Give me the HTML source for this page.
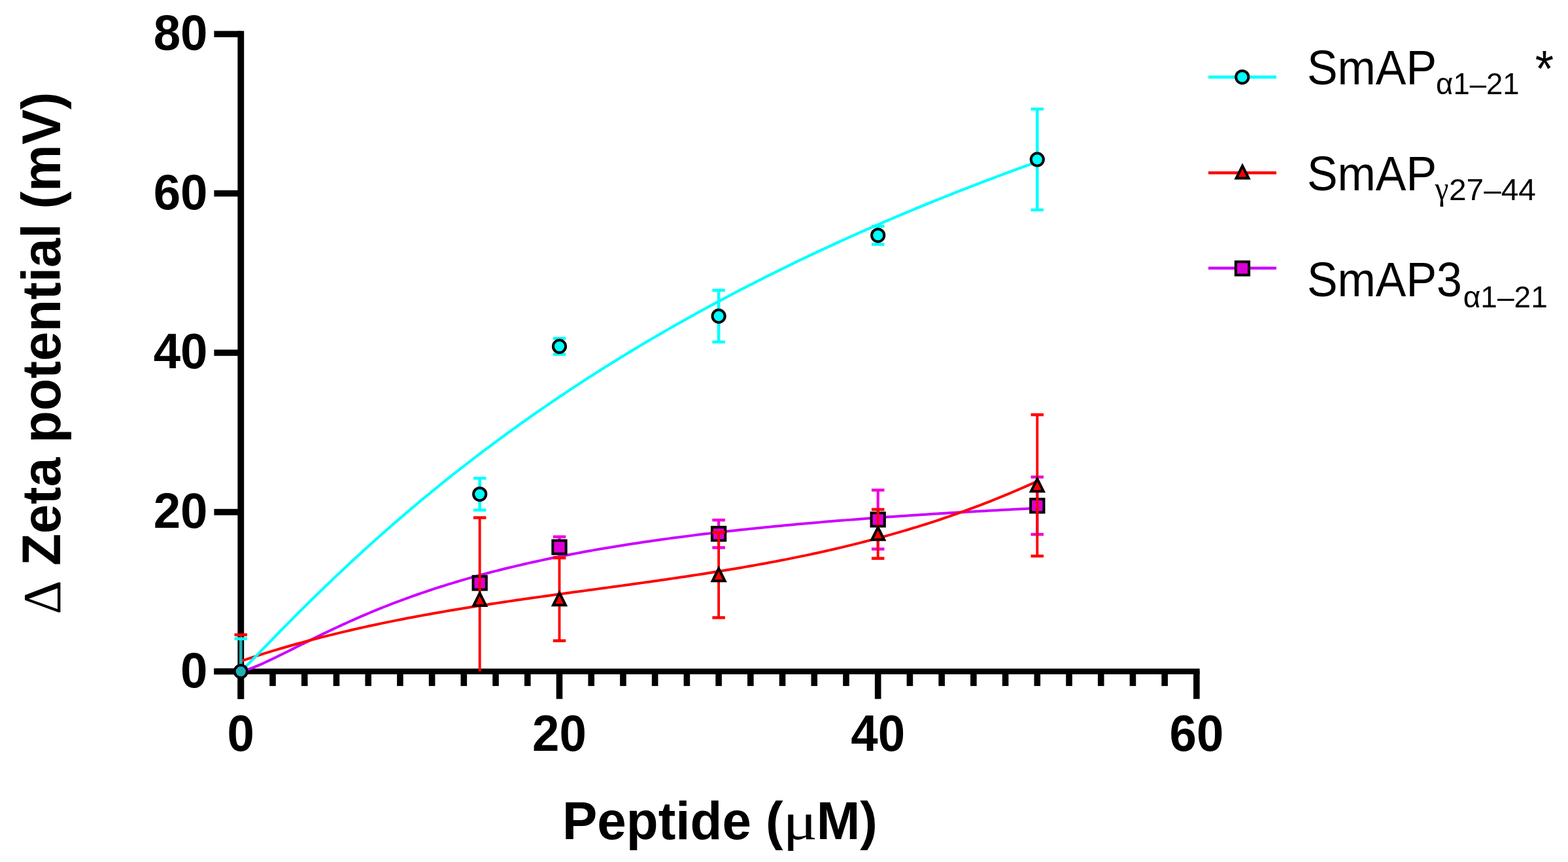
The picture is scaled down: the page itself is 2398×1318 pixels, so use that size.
<!DOCTYPE html>
<html><head><meta charset="utf-8"><style>
html,body{margin:0;padding:0;background:#fff;}
svg{display:block;}
.tk{font-family:"Liberation Sans",Arial,sans-serif;font-weight:bold;font-size:74.5px;fill:#000;}
.ti{font-family:"Liberation Sans",Arial,sans-serif;font-weight:bold;font-size:80px;fill:#000;}
.gr{font-family:"Liberation Serif","Times New Roman",serif;font-weight:normal;}
.lg{font-family:"Liberation Sans",Arial,sans-serif;font-size:71px;fill:#000;}
.sub{font-size:45px;}
.subg{font-size:48px;font-family:"Liberation Serif",serif;}
.ast{font-size:74px;}
.mu{stroke:#000;stroke-width:1.3px;}
.yt{font-size:80.5px;}
</style></head><body>
<svg width="2398" height="1318" viewBox="0 0 2398 1318">
<rect width="2398" height="1318" fill="#fff"/>
<rect x="363.4" y="47.3" width="9.8" height="1021.4" fill="#000"/>
<rect x="327.4" y="1021.80" width="40.9" height="9.6" fill="#000"/>
<rect x="327.4" y="778.18" width="40.9" height="9.6" fill="#000"/>
<rect x="327.4" y="534.56" width="40.9" height="9.6" fill="#000"/>
<rect x="327.4" y="290.94" width="40.9" height="9.6" fill="#000"/>
<rect x="327.4" y="47.32" width="40.9" height="9.6" fill="#000"/>
<rect x="327.4" y="1022.3" width="1507.3" height="8.7" fill="#000"/>
<rect x="363.50" y="1026" width="9.6" height="42.7" fill="#000"/>
<rect x="412.22" y="1026" width="9.6" height="22.9" fill="#000"/>
<rect x="460.94" y="1026" width="9.6" height="22.9" fill="#000"/>
<rect x="509.66" y="1026" width="9.6" height="22.9" fill="#000"/>
<rect x="558.38" y="1026" width="9.6" height="22.9" fill="#000"/>
<rect x="607.10" y="1026" width="9.6" height="22.9" fill="#000"/>
<rect x="655.82" y="1026" width="9.6" height="22.9" fill="#000"/>
<rect x="704.54" y="1026" width="9.6" height="22.9" fill="#000"/>
<rect x="753.26" y="1026" width="9.6" height="22.9" fill="#000"/>
<rect x="801.98" y="1026" width="9.6" height="22.9" fill="#000"/>
<rect x="850.70" y="1026" width="9.6" height="42.7" fill="#000"/>
<rect x="899.42" y="1026" width="9.6" height="22.9" fill="#000"/>
<rect x="948.14" y="1026" width="9.6" height="22.9" fill="#000"/>
<rect x="996.86" y="1026" width="9.6" height="22.9" fill="#000"/>
<rect x="1045.58" y="1026" width="9.6" height="22.9" fill="#000"/>
<rect x="1094.30" y="1026" width="9.6" height="22.9" fill="#000"/>
<rect x="1143.02" y="1026" width="9.6" height="22.9" fill="#000"/>
<rect x="1191.74" y="1026" width="9.6" height="22.9" fill="#000"/>
<rect x="1240.46" y="1026" width="9.6" height="22.9" fill="#000"/>
<rect x="1289.18" y="1026" width="9.6" height="22.9" fill="#000"/>
<rect x="1337.90" y="1026" width="9.6" height="42.7" fill="#000"/>
<rect x="1386.62" y="1026" width="9.6" height="22.9" fill="#000"/>
<rect x="1435.34" y="1026" width="9.6" height="22.9" fill="#000"/>
<rect x="1484.06" y="1026" width="9.6" height="22.9" fill="#000"/>
<rect x="1532.78" y="1026" width="9.6" height="22.9" fill="#000"/>
<rect x="1581.50" y="1026" width="9.6" height="22.9" fill="#000"/>
<rect x="1630.22" y="1026" width="9.6" height="22.9" fill="#000"/>
<rect x="1678.94" y="1026" width="9.6" height="22.9" fill="#000"/>
<rect x="1727.66" y="1026" width="9.6" height="22.9" fill="#000"/>
<rect x="1776.38" y="1026" width="9.6" height="22.9" fill="#000"/>
<rect x="1825.10" y="1026" width="9.6" height="42.7" fill="#000"/>
<path d="M368.30,1026.60 L374.42,1025.23 L380.54,1023.24 L386.66,1020.95 L392.78,1018.45 L398.90,1015.80 L405.02,1013.03 L411.14,1010.17 L417.26,1007.25 L423.39,1004.28 L429.51,1001.26 L435.63,998.22 L441.75,995.17 L447.87,992.10 L453.99,989.03 L460.11,985.97 L466.23,982.91 L472.35,979.87 L478.47,976.84 L484.59,973.84 L490.71,970.86 L496.83,967.90 L502.95,964.97 L509.07,962.07 L515.19,959.20 L521.32,956.37 L527.44,953.57 L533.56,950.80 L539.68,948.06 L545.80,945.37 L551.92,942.70 L558.04,940.08 L564.16,937.49 L570.28,934.94 L576.40,932.42 L582.52,929.94 L588.64,927.50 L594.76,925.09 L600.88,922.72 L607.00,920.39 L613.12,918.09 L619.24,915.83 L625.37,913.60 L631.49,911.41 L637.61,909.25 L643.73,907.13 L649.85,905.04 L655.97,902.98 L662.09,900.96 L668.21,898.96 L674.33,897.00 L680.45,895.07 L686.57,893.17 L692.69,891.30 L698.81,889.46 L704.93,887.65 L711.05,885.87 L717.17,884.12 L723.29,882.40 L729.42,880.70 L735.54,879.03 L741.66,877.38 L747.78,875.76 L753.90,874.17 L760.02,872.60 L766.14,871.06 L772.26,869.54 L778.38,868.04 L784.50,866.57 L790.62,865.12 L796.74,863.70 L802.86,862.29 L808.98,860.91 L815.10,859.54 L821.22,858.20 L827.35,856.88 L833.47,855.58 L839.59,854.30 L845.71,853.04 L851.83,851.79 L857.95,850.57 L864.07,849.36 L870.19,848.17 L876.31,847.00 L882.43,845.85 L888.55,844.71 L894.67,843.59 L900.79,842.48 L906.91,841.39 L913.03,840.32 L919.15,839.26 L925.27,838.22 L931.40,837.19 L937.52,836.18 L943.64,835.18 L949.76,834.20 L955.88,833.23 L962.00,832.27 L968.12,831.33 L974.24,830.40 L980.36,829.48 L986.48,828.57 L992.60,827.68 L998.72,826.80 L1004.84,825.93 L1010.96,825.07 L1017.08,824.22 L1023.20,823.39 L1029.33,822.56 L1035.45,821.75 L1041.57,820.95 L1047.69,820.16 L1053.81,819.38 L1059.93,818.61 L1066.05,817.84 L1072.17,817.09 L1078.29,816.35 L1084.41,815.62 L1090.53,814.90 L1096.65,814.18 L1102.77,813.48 L1108.89,812.78 L1115.01,812.09 L1121.13,811.41 L1127.25,810.74 L1133.38,810.08 L1139.50,809.43 L1145.62,808.78 L1151.74,808.14 L1157.86,807.51 L1163.98,806.89 L1170.10,806.27 L1176.22,805.67 L1182.34,805.07 L1188.46,804.47 L1194.58,803.89 L1200.70,803.31 L1206.82,802.73 L1212.94,802.17 L1219.06,801.61 L1225.18,801.05 L1231.31,800.51 L1237.43,799.97 L1243.55,799.43 L1249.67,798.90 L1255.79,798.38 L1261.91,797.86 L1268.03,797.35 L1274.15,796.85 L1280.27,796.35 L1286.39,795.86 L1292.51,795.37 L1298.63,794.88 L1304.75,794.41 L1310.87,793.93 L1316.99,793.47 L1323.11,793.00 L1329.23,792.55 L1335.36,792.09 L1341.48,791.65 L1347.60,791.20 L1353.72,790.76 L1359.84,790.33 L1365.96,789.90 L1372.08,789.48 L1378.20,789.06 L1384.32,788.64 L1390.44,788.23 L1396.56,787.82 L1402.68,787.42 L1408.80,787.02 L1414.92,786.63 L1421.04,786.24 L1427.16,785.85 L1433.28,785.47 L1439.41,785.09 L1445.53,784.71 L1451.65,784.34 L1457.77,783.97 L1463.89,783.61 L1470.01,783.25 L1476.13,782.89 L1482.25,782.54 L1488.37,782.19 L1494.49,781.84 L1500.61,781.50 L1506.73,781.15 L1512.85,780.82 L1518.97,780.48 L1525.09,780.15 L1531.21,779.83 L1537.34,779.50 L1543.46,779.18 L1549.58,778.86 L1555.70,778.55 L1561.82,778.23 L1567.94,777.93 L1574.06,777.62 L1580.18,777.31 L1586.30,777.01" fill="none" stroke="#cc00ff" stroke-width="4.0"/>
<line x1="855.50" y1="820.74" x2="855.50" y2="852.41" stroke="#ee00dd" stroke-width="4.2"/>
<line x1="845.75" y1="820.74" x2="865.25" y2="820.74" stroke="#ee00dd" stroke-width="4.5"/>
<line x1="845.75" y1="852.41" x2="865.25" y2="852.41" stroke="#ee00dd" stroke-width="4.5"/>
<line x1="1099.10" y1="795.16" x2="1099.10" y2="837.31" stroke="#ee00dd" stroke-width="4.2"/>
<line x1="1089.35" y1="795.16" x2="1108.85" y2="795.16" stroke="#ee00dd" stroke-width="4.5"/>
<line x1="1089.35" y1="837.31" x2="1108.85" y2="837.31" stroke="#ee00dd" stroke-width="4.5"/>
<line x1="1342.70" y1="749.36" x2="1342.70" y2="839.50" stroke="#ee00dd" stroke-width="4.2"/>
<line x1="1332.95" y1="749.36" x2="1352.45" y2="749.36" stroke="#ee00dd" stroke-width="4.5"/>
<line x1="1332.95" y1="839.50" x2="1352.45" y2="839.50" stroke="#ee00dd" stroke-width="4.5"/>
<line x1="1586.30" y1="729.38" x2="1586.30" y2="817.09" stroke="#ee00dd" stroke-width="4.2"/>
<line x1="1576.55" y1="729.38" x2="1596.05" y2="729.38" stroke="#ee00dd" stroke-width="4.5"/>
<line x1="1576.55" y1="817.09" x2="1596.05" y2="817.09" stroke="#ee00dd" stroke-width="4.5"/>
<rect x="723.55" y="881.24" width="20.3" height="20.3" fill="#dc00d6" stroke="#000" stroke-width="4"/>
<rect x="845.35" y="826.43" width="20.3" height="20.3" fill="#dc00d6" stroke="#000" stroke-width="4"/>
<rect x="1088.95" y="806.08" width="20.3" height="20.3" fill="#dc00d6" stroke="#000" stroke-width="4"/>
<rect x="1332.55" y="784.28" width="20.3" height="20.3" fill="#dc00d6" stroke="#000" stroke-width="4"/>
<rect x="1576.15" y="763.09" width="20.3" height="20.3" fill="#dc00d6" stroke="#000" stroke-width="4"/>
<path d="M368.30,1010.88 L374.42,1008.82 L380.54,1006.80 L386.66,1004.79 L392.78,1002.82 L398.90,1000.87 L405.02,998.95 L411.14,997.06 L417.26,995.19 L423.39,993.35 L429.51,991.53 L435.63,989.74 L441.75,987.97 L447.87,986.23 L453.99,984.51 L460.11,982.81 L466.23,981.14 L472.35,979.49 L478.47,977.87 L484.59,976.26 L490.71,974.68 L496.83,973.12 L502.95,971.58 L509.07,970.07 L515.19,968.57 L521.32,967.09 L527.44,965.64 L533.56,964.20 L539.68,962.79 L545.80,961.39 L551.92,960.01 L558.04,958.65 L564.16,957.31 L570.28,955.99 L576.40,954.68 L582.52,953.39 L588.64,952.12 L594.76,950.87 L600.88,949.63 L607.00,948.41 L613.12,947.20 L619.24,946.01 L625.37,944.83 L631.49,943.67 L637.61,942.52 L643.73,941.39 L649.85,940.27 L655.97,939.17 L662.09,938.07 L668.21,936.99 L674.33,935.93 L680.45,934.87 L686.57,933.83 L692.69,932.80 L698.81,931.78 L704.93,930.77 L711.05,929.77 L717.17,928.78 L723.29,927.80 L729.42,926.83 L735.54,925.87 L741.66,924.92 L747.78,923.97 L753.90,923.04 L760.02,922.11 L766.14,921.20 L772.26,920.28 L778.38,919.38 L784.50,918.48 L790.62,917.59 L796.74,916.71 L802.86,915.83 L808.98,914.95 L815.10,914.08 L821.22,913.22 L827.35,912.36 L833.47,911.50 L839.59,910.65 L845.71,909.80 L851.83,908.96 L857.95,908.12 L864.07,907.28 L870.19,906.44 L876.31,905.60 L882.43,904.77 L888.55,903.94 L894.67,903.11 L900.79,902.27 L906.91,901.44 L913.03,900.61 L919.15,899.78 L925.27,898.95 L931.40,898.12 L937.52,897.28 L943.64,896.45 L949.76,895.61 L955.88,894.77 L962.00,893.92 L968.12,893.08 L974.24,892.23 L980.36,891.38 L986.48,890.52 L992.60,889.66 L998.72,888.79 L1004.84,887.92 L1010.96,887.05 L1017.08,886.17 L1023.20,885.28 L1029.33,884.39 L1035.45,883.49 L1041.57,882.58 L1047.69,881.67 L1053.81,880.75 L1059.93,879.82 L1066.05,878.88 L1072.17,877.94 L1078.29,876.99 L1084.41,876.02 L1090.53,875.05 L1096.65,874.07 L1102.77,873.08 L1108.89,872.08 L1115.01,871.06 L1121.13,870.04 L1127.25,869.01 L1133.38,867.96 L1139.50,866.90 L1145.62,865.83 L1151.74,864.75 L1157.86,863.65 L1163.98,862.54 L1170.10,861.42 L1176.22,860.28 L1182.34,859.13 L1188.46,857.97 L1194.58,856.79 L1200.70,855.59 L1206.82,854.38 L1212.94,853.16 L1219.06,851.91 L1225.18,850.66 L1231.31,849.38 L1237.43,848.09 L1243.55,846.78 L1249.67,845.45 L1255.79,844.10 L1261.91,842.74 L1268.03,841.36 L1274.15,839.96 L1280.27,838.53 L1286.39,837.09 L1292.51,835.63 L1298.63,834.15 L1304.75,832.65 L1310.87,831.13 L1316.99,829.58 L1323.11,828.02 L1329.23,826.43 L1335.36,824.82 L1341.48,823.19 L1347.60,821.54 L1353.72,819.86 L1359.84,818.16 L1365.96,816.43 L1372.08,814.68 L1378.20,812.91 L1384.32,811.11 L1390.44,809.29 L1396.56,807.44 L1402.68,805.56 L1408.80,803.66 L1414.92,801.74 L1421.04,799.78 L1427.16,797.80 L1433.28,795.79 L1439.41,793.76 L1445.53,791.69 L1451.65,789.60 L1457.77,787.48 L1463.89,785.33 L1470.01,783.15 L1476.13,780.95 L1482.25,778.71 L1488.37,776.44 L1494.49,774.14 L1500.61,771.81 L1506.73,769.45 L1512.85,767.06 L1518.97,764.63 L1525.09,762.17 L1531.21,759.69 L1537.34,757.16 L1543.46,754.61 L1549.58,752.02 L1555.70,749.40 L1561.82,746.74 L1567.94,744.05 L1574.06,741.33 L1580.18,738.57 L1586.30,735.77" fill="none" stroke="#ff0000" stroke-width="4.0"/>
<line x1="368.30" y1="970.57" x2="368.30" y2="1026.60" stroke="#ff0000" stroke-width="3.9"/>
<line x1="358.55" y1="970.57" x2="378.05" y2="970.57" stroke="#ff0000" stroke-width="4.5"/>
<line x1="733.70" y1="791.51" x2="733.70" y2="1026.60" stroke="#ff0000" stroke-width="3.9"/>
<line x1="723.95" y1="791.51" x2="743.45" y2="791.51" stroke="#ff0000" stroke-width="4.5"/>
<line x1="855.50" y1="853.02" x2="855.50" y2="979.70" stroke="#ff0000" stroke-width="3.9"/>
<line x1="845.75" y1="853.02" x2="865.25" y2="853.02" stroke="#ff0000" stroke-width="4.5"/>
<line x1="845.75" y1="979.70" x2="865.25" y2="979.70" stroke="#ff0000" stroke-width="4.5"/>
<line x1="1099.10" y1="814.04" x2="1099.10" y2="944.38" stroke="#ff0000" stroke-width="3.9"/>
<line x1="1089.35" y1="814.04" x2="1108.85" y2="814.04" stroke="#ff0000" stroke-width="4.5"/>
<line x1="1089.35" y1="944.38" x2="1108.85" y2="944.38" stroke="#ff0000" stroke-width="4.5"/>
<line x1="1342.70" y1="778.96" x2="1342.70" y2="853.75" stroke="#ff0000" stroke-width="3.9"/>
<line x1="1332.95" y1="778.96" x2="1352.45" y2="778.96" stroke="#ff0000" stroke-width="4.5"/>
<line x1="1332.95" y1="853.75" x2="1352.45" y2="853.75" stroke="#ff0000" stroke-width="4.5"/>
<line x1="1586.30" y1="634.13" x2="1586.30" y2="850.22" stroke="#ff0000" stroke-width="3.9"/>
<line x1="1576.55" y1="634.13" x2="1596.05" y2="634.13" stroke="#ff0000" stroke-width="4.5"/>
<line x1="1576.55" y1="850.22" x2="1596.05" y2="850.22" stroke="#ff0000" stroke-width="4.5"/>
<path d="M733.70,906.97 L743.20,925.97 L724.20,925.97 Z" fill="#ff0000" stroke="#000" stroke-width="4" stroke-linejoin="miter"/>
<path d="M855.50,906.36 L865.00,925.36 L846.00,925.36 Z" fill="#ff0000" stroke="#000" stroke-width="4" stroke-linejoin="miter"/>
<path d="M1099.10,869.21 L1108.60,888.21 L1089.60,888.21 Z" fill="#ff0000" stroke="#000" stroke-width="4" stroke-linejoin="miter"/>
<path d="M1342.70,806.36 L1352.20,825.36 L1333.20,825.36 Z" fill="#ff0000" stroke="#000" stroke-width="4" stroke-linejoin="miter"/>
<path d="M1586.30,732.17 L1595.80,751.17 L1576.80,751.17 Z" fill="#ff0000" stroke="#000" stroke-width="4" stroke-linejoin="miter"/>
<path d="M368.30,1026.60 L374.42,1020.69 L380.54,1014.51 L386.66,1008.25 L392.78,1001.95 L398.90,995.64 L405.02,989.33 L411.14,983.02 L417.26,976.73 L423.39,970.46 L429.51,964.21 L435.63,957.98 L441.75,951.78 L447.87,945.61 L453.99,939.46 L460.11,933.35 L466.23,927.26 L472.35,921.21 L478.47,915.19 L484.59,909.21 L490.71,903.25 L496.83,897.33 L502.95,891.44 L509.07,885.59 L515.19,879.77 L521.32,873.99 L527.44,868.24 L533.56,862.53 L539.68,856.85 L545.80,851.20 L551.92,845.59 L558.04,840.01 L564.16,834.47 L570.28,828.96 L576.40,823.49 L582.52,818.04 L588.64,812.64 L594.76,807.26 L600.88,801.92 L607.00,796.62 L613.12,791.34 L619.24,786.10 L625.37,780.90 L631.49,775.72 L637.61,770.58 L643.73,765.47 L649.85,760.39 L655.97,755.34 L662.09,750.33 L668.21,745.34 L674.33,740.39 L680.45,735.47 L686.57,730.58 L692.69,725.72 L698.81,720.89 L704.93,716.09 L711.05,711.32 L717.17,706.58 L723.29,701.87 L729.42,697.19 L735.54,692.53 L741.66,687.91 L747.78,683.31 L753.90,678.75 L760.02,674.21 L766.14,669.70 L772.26,665.21 L778.38,660.76 L784.50,656.33 L790.62,651.93 L796.74,647.55 L802.86,643.20 L808.98,638.88 L815.10,634.59 L821.22,630.32 L827.35,626.08 L833.47,621.86 L839.59,617.67 L845.71,613.50 L851.83,609.36 L857.95,605.24 L864.07,601.15 L870.19,597.08 L876.31,593.03 L882.43,589.01 L888.55,585.02 L894.67,581.04 L900.79,577.10 L906.91,573.17 L913.03,569.27 L919.15,565.39 L925.27,561.53 L931.40,557.70 L937.52,553.88 L943.64,550.09 L949.76,546.33 L955.88,542.58 L962.00,538.85 L968.12,535.15 L974.24,531.47 L980.36,527.81 L986.48,524.17 L992.60,520.55 L998.72,516.95 L1004.84,513.38 L1010.96,509.82 L1017.08,506.28 L1023.20,502.76 L1029.33,499.27 L1035.45,495.79 L1041.57,492.33 L1047.69,488.89 L1053.81,485.47 L1059.93,482.07 L1066.05,478.69 L1072.17,475.33 L1078.29,471.99 L1084.41,468.66 L1090.53,465.35 L1096.65,462.06 L1102.77,458.79 L1108.89,455.54 L1115.01,452.31 L1121.13,449.09 L1127.25,445.89 L1133.38,442.71 L1139.50,439.54 L1145.62,436.39 L1151.74,433.26 L1157.86,430.15 L1163.98,427.05 L1170.10,423.97 L1176.22,420.91 L1182.34,417.86 L1188.46,414.83 L1194.58,411.81 L1200.70,408.81 L1206.82,405.83 L1212.94,402.86 L1219.06,399.91 L1225.18,396.97 L1231.31,394.05 L1237.43,391.14 L1243.55,388.25 L1249.67,385.38 L1255.79,382.51 L1261.91,379.67 L1268.03,376.84 L1274.15,374.02 L1280.27,371.22 L1286.39,368.43 L1292.51,365.66 L1298.63,362.90 L1304.75,360.15 L1310.87,357.42 L1316.99,354.70 L1323.11,352.00 L1329.23,349.31 L1335.36,346.63 L1341.48,343.97 L1347.60,341.32 L1353.72,338.68 L1359.84,336.06 L1365.96,333.45 L1372.08,330.85 L1378.20,328.27 L1384.32,325.70 L1390.44,323.14 L1396.56,320.59 L1402.68,318.06 L1408.80,315.54 L1414.92,313.03 L1421.04,310.53 L1427.16,308.05 L1433.28,305.58 L1439.41,303.12 L1445.53,300.67 L1451.65,298.23 L1457.77,295.81 L1463.89,293.39 L1470.01,290.99 L1476.13,288.60 L1482.25,286.23 L1488.37,283.86 L1494.49,281.50 L1500.61,279.16 L1506.73,276.83 L1512.85,274.50 L1518.97,272.19 L1525.09,269.89 L1531.21,267.60 L1537.34,265.32 L1543.46,263.06 L1549.58,260.80 L1555.70,258.55 L1561.82,256.32 L1567.94,254.09 L1574.06,251.87 L1580.18,249.67 L1586.30,247.47" fill="none" stroke="#00ffff" stroke-width="4.2"/>
<line x1="733.70" y1="731.21" x2="733.70" y2="779.93" stroke="#00ffff" stroke-width="4.6"/>
<line x1="723.95" y1="731.21" x2="743.45" y2="731.21" stroke="#00ffff" stroke-width="4.5"/>
<line x1="723.95" y1="779.93" x2="743.45" y2="779.93" stroke="#00ffff" stroke-width="4.5"/>
<line x1="855.50" y1="517.43" x2="855.50" y2="541.80" stroke="#00ffff" stroke-width="4.6"/>
<line x1="845.75" y1="517.43" x2="865.25" y2="517.43" stroke="#00ffff" stroke-width="4.5"/>
<line x1="845.75" y1="541.80" x2="865.25" y2="541.80" stroke="#00ffff" stroke-width="4.5"/>
<line x1="1099.10" y1="443.74" x2="1099.10" y2="522.92" stroke="#00ffff" stroke-width="4.6"/>
<line x1="1089.35" y1="443.74" x2="1108.85" y2="443.74" stroke="#00ffff" stroke-width="4.5"/>
<line x1="1089.35" y1="522.92" x2="1108.85" y2="522.92" stroke="#00ffff" stroke-width="4.5"/>
<line x1="1342.70" y1="346.05" x2="1342.70" y2="373.58" stroke="#00ffff" stroke-width="4.6"/>
<line x1="1332.95" y1="346.05" x2="1352.45" y2="346.05" stroke="#00ffff" stroke-width="4.5"/>
<line x1="1332.95" y1="373.58" x2="1352.45" y2="373.58" stroke="#00ffff" stroke-width="4.5"/>
<line x1="1586.30" y1="166.74" x2="1586.30" y2="320.95" stroke="#00ffff" stroke-width="4.6"/>
<line x1="1576.55" y1="166.74" x2="1596.05" y2="166.74" stroke="#00ffff" stroke-width="4.5"/>
<line x1="1576.55" y1="320.95" x2="1596.05" y2="320.95" stroke="#00ffff" stroke-width="4.5"/>
<circle cx="733.70" cy="755.57" r="9.6" fill="#00ffff" stroke="#000" stroke-width="4"/>
<circle cx="855.50" cy="529.62" r="9.6" fill="#00ffff" stroke="#000" stroke-width="4"/>
<circle cx="1099.10" cy="483.33" r="9.6" fill="#00ffff" stroke="#000" stroke-width="4"/>
<circle cx="1342.70" cy="359.81" r="9.6" fill="#00ffff" stroke="#000" stroke-width="4"/>
<circle cx="1586.30" cy="243.85" r="9.6" fill="#00ffff" stroke="#000" stroke-width="4"/>
<path d="M368.30,1010.10 L377.30,1022.60 L359.30,1022.60 Z" fill="#000"/>
<line x1="368.30" y1="976.66" x2="368.30" y2="1026.60" stroke="#1eb0b6" stroke-width="4.6"/>
<line x1="358.55" y1="976.66" x2="378.05" y2="976.66" stroke="#00ffff" stroke-width="4.5"/>
<circle cx="368.30" cy="1026.60" r="9.6" fill="#1eb0b6" stroke="#000" stroke-width="4"/>
<text transform="translate(317.50,1050.70) scale(1,1.025)" class="tk" text-anchor="end">0</text>
<text transform="translate(317.50,807.08) scale(1,1.025)" class="tk" text-anchor="end">20</text>
<text transform="translate(317.50,563.46) scale(1,1.025)" class="tk" text-anchor="end">40</text>
<text transform="translate(317.50,319.84) scale(1,1.025)" class="tk" text-anchor="end">60</text>
<text transform="translate(317.50,76.22) scale(1,1.025)" class="tk" text-anchor="end">80</text>
<text transform="translate(368.30,1148.30) scale(1,1.035)" class="tk" text-anchor="middle">0</text>
<text transform="translate(855.50,1148.30) scale(1,1.035)" class="tk" text-anchor="middle">20</text>
<text transform="translate(1342.70,1148.30) scale(1,1.035)" class="tk" text-anchor="middle">40</text>
<text transform="translate(1829.90,1148.30) scale(1,1.035)" class="tk" text-anchor="middle">60</text>
<text transform="translate(860.0,1282.5) scale(1,1.03)" class="ti">Peptide (<tspan class="gr" dx="-0.5" textLength="53.0" lengthAdjust="spacingAndGlyphs">μ</tspan><tspan dx="-1.5">M)</tspan></text>
<text transform="translate(92.2,539.9) rotate(-90) scale(1,1.03)" text-anchor="middle" class="ti yt"><tspan class="gr">Δ</tspan> Zeta potential (mV)</text>

<line x1="1848" y1="117.9" x2="1952" y2="117.9" stroke="#00ffff" stroke-width="4.6"/>
<circle cx="1899.80" cy="117.80" r="9.6" fill="#00ffff" stroke="#000" stroke-width="4"/>
<line x1="1848" y1="264.2" x2="1952" y2="264.2" stroke="#ff0000" stroke-width="4.6"/>
<path d="M1900.10,253.60 L1909.60,272.60 L1890.60,272.60 Z" fill="#ff0000" stroke="#000" stroke-width="4" stroke-linejoin="miter"/>
<line x1="1848" y1="410" x2="1952" y2="410" stroke="#cc00ff" stroke-width="4.6"/>
<rect x="1889.85" y="400.25" width="20.3" height="20.3" fill="#dc00d6" stroke="#000" stroke-width="4"/>
<text transform="translate(1998.9,128.7) scale(0.985,1.04)" class="lg">SmAP<tspan class="sub" dx="-1.0" dy="14.33" textLength="129.5" lengthAdjust="spacingAndGlyphs">α1–21</tspan><tspan class="ast" dx="3.9" dy="-10.8"> *</tspan></text>
<text transform="translate(1998.9,291.0) scale(0.985,1.04)" class="lg">SmAP<tspan class="subg" dx="-2.6" dy="13.3">γ</tspan><tspan class="sub" dx="0.6" dy="1.6" textLength="135.0" lengthAdjust="spacingAndGlyphs">27–44</tspan></text>
<text transform="translate(1998.9,453.3) scale(0.985,1.04)" class="lg">SmAP3<tspan class="sub" dx="1.8" dy="15.67" textLength="131.0" lengthAdjust="spacingAndGlyphs">α1–21</tspan></text>

</svg>
</body></html>
